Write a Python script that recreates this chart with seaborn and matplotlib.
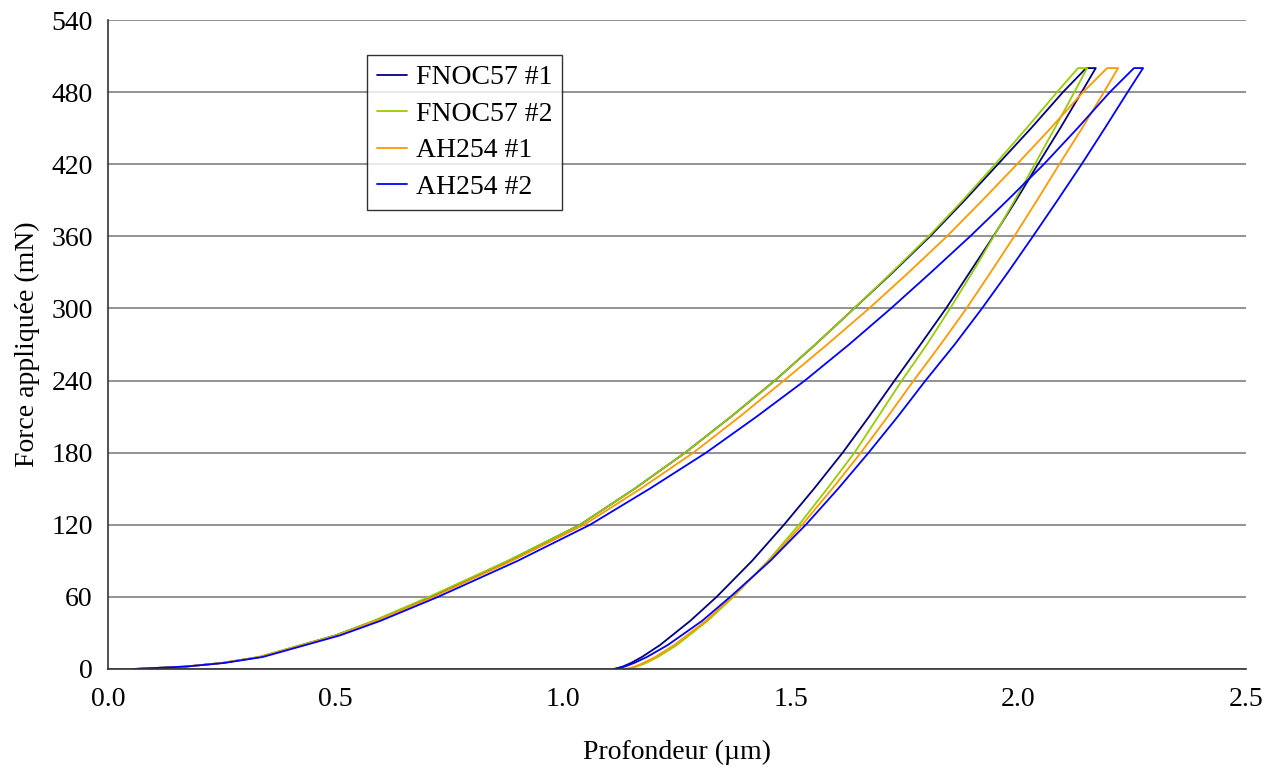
import numpy as np
import pandas as pd
import matplotlib
matplotlib.use('Agg')
import matplotlib.pyplot as plt
import seaborn as sns

# Courbes charge / decharge (profondeur en um, force en mN)
series = ['FNOC57 #1', 'FNOC57 #2', 'AH254 #1', 'AH254 #2']
colors = ['#000080', '#99cc00', '#ff9900', '#0000ff']

f_load = [0, 2, 5, 10, 28, 40, 60, 90, 120, 150, 180, 210, 240, 270, 300,
          330, 360, 390, 420, 450, 480, 500]
f_unload = [500, 480, 450, 420, 390, 360, 330, 300, 270, 240, 210, 180, 150,
            120, 90, 60, 40, 20, 10, 5, 2, 0]

h_load_fnoc1 = [0.057, 0.17, 0.25, 0.334, 0.500, 0.585, 0.710, 0.880, 1.037, 1.157, 1.268,
                1.369, 1.465, 1.554, 1.639, 1.724, 1.806, 1.882, 1.955, 2.028, 2.098, 2.149]
h_unload_fnoc1 = [2.170, 2.139, 2.092, 2.043, 1.995, 1.945, 1.893, 1.841, 1.785, 1.728, 1.672,
                  1.614, 1.551, 1.485, 1.415, 1.337, 1.279, 1.213, 1.173, 1.149, 1.131, 1.112]

h_load_fnoc2 = [0.057, 0.17, 0.25, 0.330, 0.500, 0.583, 0.705, 0.878, 1.037, 1.157, 1.268,
                1.369, 1.465, 1.554, 1.639, 1.722, 1.803, 1.878, 1.949, 2.018, 2.085, 2.131]
h_unload_fnoc2 = [2.151, 2.123, 2.080, 2.036, 1.992, 1.946, 1.899, 1.850, 1.799, 1.744, 1.692,
                  1.640, 1.580, 1.518, 1.450, 1.374, 1.317, 1.250, 1.208, 1.182, 1.162, 1.140]

h_load_ah1 = [0.057, 0.17, 0.25, 0.335, 0.505, 0.590, 0.715, 0.887, 1.046, 1.170, 1.286,
              1.388, 1.485, 1.580, 1.672, 1.759, 1.843, 1.921, 1.997, 2.071, 2.142, 2.195]
h_unload_ah1 = [2.219, 2.188, 2.140, 2.090, 2.041, 1.991, 1.939, 1.886, 1.829, 1.770, 1.713,
                1.654, 1.591, 1.525, 1.453, 1.371, 1.313, 1.244, 1.202, 1.176, 1.157, 1.136]

h_load_ah2 = [0.057, 0.17, 0.255, 0.340, 0.510, 0.598, 0.725, 0.900, 1.059, 1.190, 1.314,
              1.425, 1.531, 1.628, 1.720, 1.808, 1.894, 1.976, 2.056, 2.130, 2.201, 2.254]
h_unload_ah2 = [2.274, 2.240, 2.190, 2.139, 2.086, 2.032, 1.977, 1.920, 1.860, 1.796, 1.735,
                1.671, 1.604, 1.533, 1.455, 1.367, 1.305, 1.230, 1.184, 1.156, 1.135, 1.112]

h_all = [(h_load_fnoc1, h_unload_fnoc1), (h_load_fnoc2, h_unload_fnoc2),
         (h_load_ah1, h_unload_ah1), (h_load_ah2, h_unload_ah2)]

rows = []
for name, (hl, hu) in zip(series, h_all):
    for h, f in zip(hl + hu, f_load + f_unload):
        rows.append({'serie': name, 'h': h, 'F': f})
df = pd.DataFrame(rows)

sns.set_style('white')
plt.rcParams['font.family'] = ['Liberation Serif', 'DejaVu Serif']
plt.rcParams['text.color'] = 'black'
plt.rcParams['axes.labelcolor'] = 'black'
plt.rcParams['xtick.color'] = 'black'
plt.rcParams['ytick.color'] = 'black'

fig = plt.figure(figsize=(12.8, 7.76), dpi=100)
ax = fig.add_axes([0.0844, 0.1379, 0.889, 0.8363])

sns.lineplot(data=df, x='h', y='F', hue='serie', hue_order=series,
             palette=colors, sort=False, estimator=None, lw=1.3, ax=ax)

ax.set_xlim(0, 2.5)
ax.set_ylim(0, 540)
ax.set_xticks(np.arange(0, 2.51, 0.5))
ax.set_xticklabels(['%.1f' % v for v in np.arange(0, 2.51, 0.5)])
ax.set_yticks(range(0, 541, 60))
ax.yaxis.grid(True, color='#808080', lw=1.2)
ax.xaxis.grid(False)
for s in ['top', 'right']:
    ax.spines[s].set_visible(False)
for s in ['left', 'bottom']:
    ax.spines[s].set_color('#333333')
    ax.spines[s].set_linewidth(1.2)
ax.tick_params(axis='both', direction='out', length=6, width=1, color='#333333',
               labelsize=20, pad=5)
ax.tick_params(axis='x', pad=7)
ax.set_xlabel('Profondeur (µm)', fontsize=20, labelpad=20)
ax.set_ylabel('Force appliquée (mN)', fontsize=20, labelpad=8)

lg = ax.legend(loc='upper left', bbox_to_anchor=(0.2276, 0.946), fontsize=20,
               frameon=True, fancybox=False, handlelength=1.1, borderpad=0.35,
               labelspacing=0.4, handletextpad=0.3, borderaxespad=0)
lg.get_frame().set_edgecolor('black')
lg.get_frame().set_linewidth(1.0)
for l in lg.get_lines():
    l.set_linewidth(1.3)

fig.savefig('out.png', dpi=100)
